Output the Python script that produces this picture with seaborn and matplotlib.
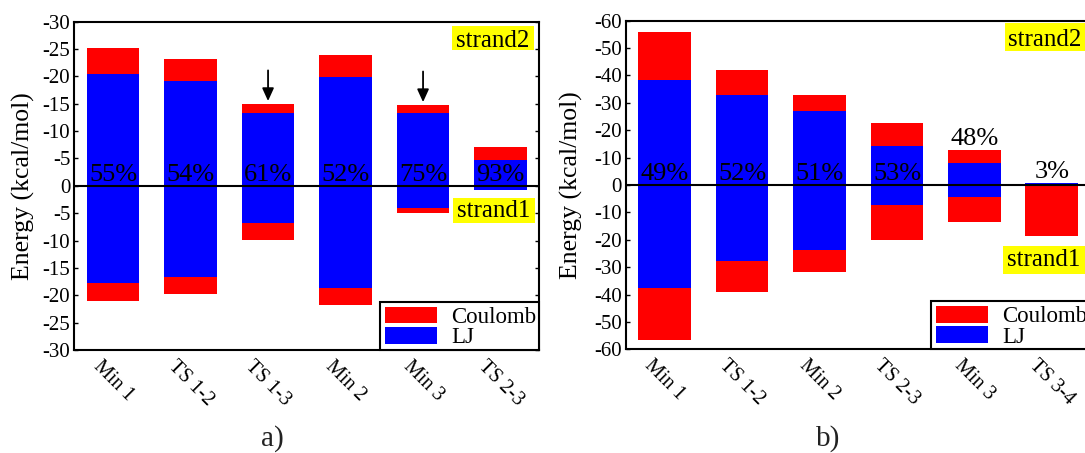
import numpy as np
import matplotlib
matplotlib.use("Agg")
import matplotlib.pyplot as plt
import seaborn as sns
from matplotlib.patches import Rectangle
from matplotlib.ticker import FixedLocator, FuncFormatter

sns.set_theme(style="white")
plt.rcParams["font.family"] = ["Liberation Serif", "DejaVu Serif"]
for key in ("text.color", "axes.labelcolor", "xtick.color", "ytick.color", "axes.edgecolor"):
    plt.rcParams[key] = "black"

RED = "#ff0000"
BLUE = "#0000ff"

# ---- panel a: interaction energies (kcal/mol) per state ----
states_a = ["Min 1", "TS 1-2", "TS 1-3", "Min 2", "Min 3", "TS 2-3"]
lj_s2_a = [-20.5, -19.1, -13.3, -19.9, -13.25, -4.7]
coul_s2_a = [-4.7, -4.0, -1.6, -4.1, -1.45, -2.4]
lj_s1_a = [-17.7, -16.6, -6.8, -18.6, -4.0, -0.7]
coul_s1_a = [-3.3, -3.15, -3.1, -3.2, -1.0, 0.0]
pct_a = ["55%", "54%", "61%", "52%", "75%", "93%"]
arrow_states_a = ["TS 1-3", "Min 3"]

# ---- panel b ----
states_b = ["Min 1", "TS 1-2", "Min 2", "TS 2-3", "Min 3", "TS 3-4"]
lj_s2_b = [-38.4, -32.7, -26.9, -14.3, -8.0, -0.7]
coul_s2_b = [-17.4, -9.4, -6.1, -8.2, -4.8, 0.0]
lj_s1_b = [-37.7, -27.7, -23.6, -7.4, -4.5, 0.0]
coul_s1_b = [-18.8, -11.3, -8.0, -12.6, -9.1, -18.7]
pct_b = ["49%", "52%", "51%", "53%", "48%", "3%"]
pct_above_b = ["Min 3", "TS 3-4"]


def tag(ax, text, x0, x1, y0, y1, baseline):
    ax.add_patch(Rectangle((x0, y0), x1 - x0, y1 - y0, transform=ax.transAxes,
                           facecolor="#ffff00", edgecolor="none", zorder=5, clip_on=False))
    ax.text((x0 + x1) / 2, baseline, text, transform=ax.transAxes, ha="center",
            va="baseline", fontsize=18, zorder=6, clip_on=False)


def legend_box(ax):
    ax.add_patch(Rectangle((0.657, 0.0), 0.343, 0.146, transform=ax.transAxes,
                           facecolor="white", edgecolor="black", lw=1.5, zorder=6,
                           clip_on=False))
    for (y0, y1, col, lab) in [(0.0813, 0.1319, RED, "Coulomb"), (0.0183, 0.071, BLUE, "LJ")]:
        ax.add_patch(Rectangle((0.668, y0), 0.112, y1 - y0, transform=ax.transAxes,
                               facecolor=col, edgecolor="none", zorder=7, clip_on=False))
        ax.text(0.81, y0 + 0.002, lab, transform=ax.transAxes, ha="left", va="baseline",
                fontsize=16.5, zorder=7, clip_on=False)


def draw_panel(ax, states, lj2, c2, lj1, c1, pcts, lim, step, above=(), arrows=()):
    lj2, c2, lj1, c1 = map(np.asarray, (lj2, c2, lj1, c1))
    # strand2 stacks point upward, strand1 stacks point downward
    up_total = -(lj2 + c2)
    up_lj = -lj2
    down_total = lj1 + c1
    down_lj = lj1
    for vals, col in [(up_total, RED), (up_lj, BLUE), (down_total, RED), (down_lj, BLUE)]:
        sns.barplot(x=states, y=vals, order=states, color=col, saturation=1, width=0.68,
                    errorbar=None, linewidth=0, ax=ax)
    ax.axhline(0, color="black", lw=1.5, zorder=3)

    for i, (s, p) in enumerate(zip(states, pcts)):
        y = up_total[i] if s in above else 0
        ax.annotate(p, (i, y), xytext=(0, 3.5), textcoords="offset points",
                    ha="center", va="baseline", fontsize=19, zorder=4)

    for s in arrows:
        i = states.index(s)
        ax.annotate("", xy=(i, up_total[i] + 0.6), xytext=(i, up_total[i] + 6.2),
                    arrowprops=dict(arrowstyle="-|>,head_length=0.55,head_width=0.25",
                                    color="black", lw=1.3, mutation_scale=14,
                                    shrinkA=0, shrinkB=0))

    ax.set_ylim(-lim, lim)
    ax.yaxis.set_major_locator(FixedLocator(np.arange(-lim, lim + 1, step)))
    ax.yaxis.set_major_formatter(FuncFormatter(
        lambda v, p: "0" if v == 0 else f"-{abs(v):.0f}"))
    ax.tick_params(axis="y", direction="in", length=3, width=1, left=True, right=True,
                   labelsize=15, pad=3)
    ax.tick_params(axis="x", length=0, labelsize=14.5, pad=5)
    plt.setp(ax.get_xticklabels(), rotation=-45, ha="center")
    ax.set_xlabel("")
    ax.set_ylabel("Energy (kcal/mol)", fontsize=18.5)
    for sp in ax.spines.values():
        sp.set_color("black")
        sp.set_linewidth(1.5)
    legend_box(ax)


fig = plt.figure(figsize=(10.85, 4.53), dpi=100)
ax_a = fig.add_axes([74.3 / 1085, 103 / 453, 465 / 1085, 328.3 / 453])
ax_b = fig.add_axes([626 / 1085, 103.7 / 453, 464.5 / 1085, 328.6 / 453])

draw_panel(ax_a, states_a, lj_s2_a, coul_s2_a, lj_s1_a, coul_s1_a, pct_a, 30, 5,
           arrows=arrow_states_a)
draw_panel(ax_b, states_b, lj_s2_b, coul_s2_b, lj_s1_b, coul_s1_b, pct_b, 60, 10,
           above=pct_above_b)

ax_a.yaxis.set_label_coords(-0.085, 0.5)
ax_b.yaxis.set_label_coords(-0.0926, 0.5)

tag(ax_a, "strand2", 0.8128, 0.9886, 0.9131, 0.9878, 0.9238)
tag(ax_a, "strand1", 0.8149, 0.9905, 0.3878, 0.4624, 0.4042)
tag(ax_b, "strand2", 0.816, 0.9886, 0.9078, 0.992, 0.9238)
tag(ax_b, "strand1", 0.8116, 0.9886, 0.230, 0.314, 0.2526)

fig.text(272 / 1085, 7 / 453, "a)", ha="center", va="baseline", fontsize=21, color="#222222")
fig.text(828 / 1085, 7 / 453, "b)", ha="center", va="baseline", fontsize=21, color="#222222")

fig.savefig("out.png", dpi=100)
